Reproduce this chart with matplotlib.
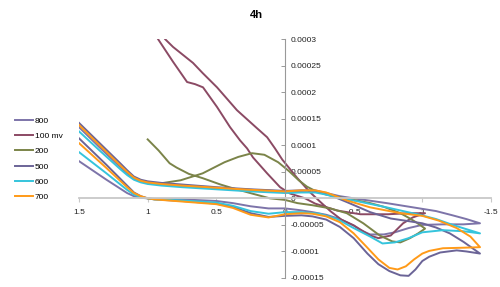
import numpy as np
import matplotlib
matplotlib.use("Agg")
import matplotlib.pyplot as plt

plt.rcParams['font.family'] = ['Liberation Sans', 'DejaVu Sans']

# potential (V) and current (units of 1e-5)
x_800 = [1.5, 1.35, 1.2, 1.15, 1.1, 1.05, 1.0, 0.9, 0.75, 0.5, 0.25, 0.0, -0.12, -0.22, -0.3, -0.4, -0.5,
         -0.74, -0.98, -1.1, -1.22, -1.32, -1.42,
         -1.3, -1.15, -1.0, -0.9, -0.8, -0.72, -0.62, -0.55, -0.5, -0.4, -0.3, -0.2, -0.1, 0.0, 0.12,
         0.25, 0.38, 0.5, 0.75, 0.95, 1.0, 1.05, 1.1, 1.15, 1.3, 1.5]
y_800 = [13.4, 9.6, 5.9, 4.7, 3.7, 3.2, 2.9, 2.6, 2.3, 1.9, 1.6, 1.3, 1.4, 1.5, 1.0, 0.4, 0.0,
         -0.9, -1.9, -2.4, -3.2, -3.9, -4.7,
         -4.9, -4.9, -5.0, -5.6, -6.4, -6.8, -6.8, -6.0, -5.1, -3.9, -3.1, -2.6, -2.2, -1.9, -1.9,
         -1.5, -0.9, -0.5, -0.2, -0.1, 0.0, 0.1, 0.4, 1.0, 3.5, 7.0]

x_100 = [0.885, 0.874, 0.815, 0.67, 0.6, 0.495, 0.35, 0.204, 0.13, 0.073, 0.02, -0.09, -0.18, -0.25,
         -0.33, -0.41, -0.5, -0.62, -0.68, -0.77, -0.86, -0.93, -1.02,
         -0.9, -0.75, -0.55, -0.38, -0.22, -0.146, -0.037, 0.036, 0.13, 0.233, 0.276, 0.327, 0.4,
         0.495, 0.597, 0.655, 0.713, 0.815, 0.925, 0.935]
y_100 = [30.6, 30.0, 28.5, 25.5, 23.6, 20.9, 16.6, 13.2, 11.5, 9.4, 7.3, 3.8, 1.2, -0.5,
         -2.4, -4.0, -5.1, -7.0, -7.5, -7.0, -4.7, -3.6, -2.8,
         -2.8, -3.0, -3.0, -2.3, -1.0, 0.0, 0.9, 2.1, 4.7, 7.7, 9.4, 10.9, 13.4,
         17.2, 20.9, 21.5, 21.9, 25.7, 30.0, 30.6]

x_200 = [1.0, 0.92, 0.84, 0.79, 0.7, 0.6, 0.47, 0.38, 0.24, 0.11, 0.0, -0.09, -0.2, -0.33, -0.45,
         -0.57, -0.69, -0.78, -0.84, -0.91, -0.97, -1.02,
         -0.96, -0.91, -0.84, -0.72, -0.62, -0.5, -0.4, -0.3, -0.22, -0.16, -0.1, -0.03, 0.05, 0.15,
         0.24, 0.34, 0.44, 0.6, 0.76, 0.91, 0.96]
y_200 = [11.1, 9.0, 6.6, 5.8, 4.6, 3.8, 2.6, 1.9, 0.9, 0.0, -0.3, -0.9, -1.3, -1.9, -2.8,
         -4.7, -7.0, -8.1, -8.3, -7.5, -6.6, -5.7,
         -4.6, -3.8, -2.8, -1.6, -0.9, -0.3, 0.2, 0.7, 1.4, 2.2, 3.4, 5.1, 6.8, 8.2,
         8.5, 7.8, 6.8, 4.7, 3.4, 2.8, 2.7]

x_500 = [1.5, 1.35, 1.2, 1.15, 1.1, 1.05, 1.0, 0.9, 0.75, 0.5, 0.25, 0.0, -0.12, -0.22, -0.3, -0.45,
         -0.62, -0.77, -0.9, -1.0, -1.1, -1.2, -1.3, -1.42,
         -1.32, -1.25, -1.13, -1.05, -1.0, -0.95, -0.9, -0.84, -0.76, -0.68, -0.6, -0.5, -0.4, -0.3,
         -0.2, -0.12, 0.0, 0.12, 0.25, 0.38, 0.5, 0.75, 0.95, 1.0, 1.05, 1.1, 1.15, 1.3, 1.5]
y_500 = [14.2, 10.4, 6.6, 5.3, 4.1, 3.5, 3.2, 2.9, 2.6, 2.1, 1.7, 1.4, 1.5, 1.4, 0.9, -0.7,
         -2.6, -3.8, -4.3, -4.7, -5.5, -6.6, -8.2, -10.4,
         -10.0, -9.8, -10.2, -11.0, -11.8, -13.4, -14.6, -14.5, -13.7, -12.4, -10.4, -7.5, -5.4, -4.0,
         -3.4, -3.2, -3.3, -3.5, -2.8, -1.6, -1.0, -0.5, -0.2, 0.0, 0.4, 1.1, 2.4, 6.3, 11.3]

x_600 = [1.5, 1.35, 1.2, 1.15, 1.1, 1.05, 1.0, 0.9, 0.75, 0.5, 0.25, 0.0, -0.12, -0.22, -0.3, -0.4,
         -0.5, -0.74, -0.98, -1.1, -1.22, -1.32, -1.42,
         -1.3, -1.15, -1.0, -0.9, -0.8, -0.71, -0.62, -0.5, -0.38, -0.25, -0.12, 0.0, 0.12, 0.25,
         0.38, 0.5, 0.75, 0.95, 1.0, 1.05, 1.1, 1.15, 1.3, 1.5]
y_600 = [12.6, 9.0, 5.5, 4.4, 3.5, 3.0, 2.7, 2.4, 2.1, 1.7, 1.3, 1.0, 1.1, 1.1, 0.7, 0.0,
         -0.4, -1.7, -3.1, -3.9, -5.0, -5.8, -6.6,
         -6.2, -6.0, -6.4, -7.5, -8.3, -8.5, -7.2, -5.6, -3.9, -2.9, -2.6, -2.6, -2.9, -2.4,
         -1.4, -0.8, -0.4, -0.2, 0.0, 0.2, 0.7, 1.6, 4.7, 8.7]

x_700 = [1.5, 1.35, 1.2, 1.15, 1.1, 1.05, 1.0, 0.9, 0.75, 0.5, 0.25, 0.0, -0.12, -0.22, -0.3, -0.38,
         -0.45, -0.62, -0.84, -1.0, -1.12, -1.25, -1.35, -1.42,
         -1.3, -1.15, -1.05, -1.0, -0.94, -0.88, -0.82, -0.76, -0.68, -0.6, -0.5, -0.4, -0.3, -0.2,
         -0.12, 0.0, 0.12, 0.25, 0.38, 0.5, 0.75, 0.95, 1.0, 1.05, 1.1, 1.15, 1.3, 1.5]
y_700 = [13.8, 10.0, 6.2, 5.0, 3.9, 3.3, 3.0, 2.7, 2.4, 2.0, 1.6, 1.3, 1.5, 1.5, 1.1, 0.3,
         -0.4, -1.7, -2.8, -3.3, -4.2, -5.6, -7.2, -9.2,
         -9.3, -9.4, -9.9, -10.4, -11.5, -12.8, -13.4, -13.1, -11.5, -9.3, -6.6, -4.5, -3.4, -2.9,
         -2.8, -3.0, -3.6, -3.1, -1.8, -1.1, -0.6, -0.2, 0.0, 0.4, 1.0, 2.1, 5.7, 10.4]

labels = ['800', '100 mv', '200', '500', '600', '700']
colors = ['#7d74a9', '#8b4a64', '#7b8449', '#6b6497', '#35c4dc', '#ff9a18']
xs = [x_800, x_100, x_200, x_500, x_600, x_700]
ys = [y_800, y_100, y_200, y_500, y_600, y_700]

xticks = [1.5, 1, 0.5, 0, -0.5, -1, -1.5]
xtick_labels = ['1.5', '1', '0.5', '0', '-0.5', '-1', '-1.5']
yticks = [0.0003, 0.00025, 0.0002, 0.00015, 0.0001, 0.00005, 0, -0.00005, -0.0001, -0.00015]
ytick_labels = ['0.0003', '0.00025', '0.0002', '0.00015', '0.0001', '0.00005', '0',
                '-0.00005', '-0.0001', '-0.00015']

fig = plt.figure(figsize=(5, 2.87), dpi=100)
ax = fig.add_axes([0.158, 0.0314, 0.824, 0.8327])

for x, y, lab, c in zip(xs, ys, labels, colors):
    ax.plot(x, np.array(y) * 1e-5, color=c, lw=1.4, label=lab)

ax.set_xlim(1.5, -1.5)
ax.set_ylim(-0.00015, 0.0003)

ax.spines['top'].set_visible(False)
ax.spines['left'].set_visible(False)
ax.spines['right'].set_position(('data', 0))
ax.spines['right'].set_color('#999999')
ax.spines['right'].set_linewidth(0.8)
ax.spines['bottom'].set_position(('data', 0))
ax.spines['bottom'].set_color('#c8c8c8')
ax.spines['bottom'].set_linewidth(1.3)

ax.yaxis.set_ticks_position('right')
ax.set_yticks(yticks)
ax.set_yticklabels(ytick_labels)
ax.set_xticks(xticks)
ax.set_xticklabels(xtick_labels)
ax.tick_params(axis='y', direction='in', length=3, width=0.7, color='#999999',
               labelsize=6, pad=4, labelcolor='#222222')
ax.tick_params(axis='x', direction='out', length=3, width=0.8, color='#c8c8c8',
               labelsize=6, pad=5, labelcolor='#222222')

fig.text(0.512, 0.948, '4h', ha='center', va='center', fontsize=8, fontweight='bold')

ax.legend(loc='upper left', bbox_to_anchor=(0.03, 0.593), bbox_transform=fig.transFigure,
          frameon=False, fontsize=6, handlelength=2.2, handletextpad=0.15,
          labelspacing=0.9, borderpad=0, borderaxespad=0)

fig.savefig('out.png', dpi=100)
